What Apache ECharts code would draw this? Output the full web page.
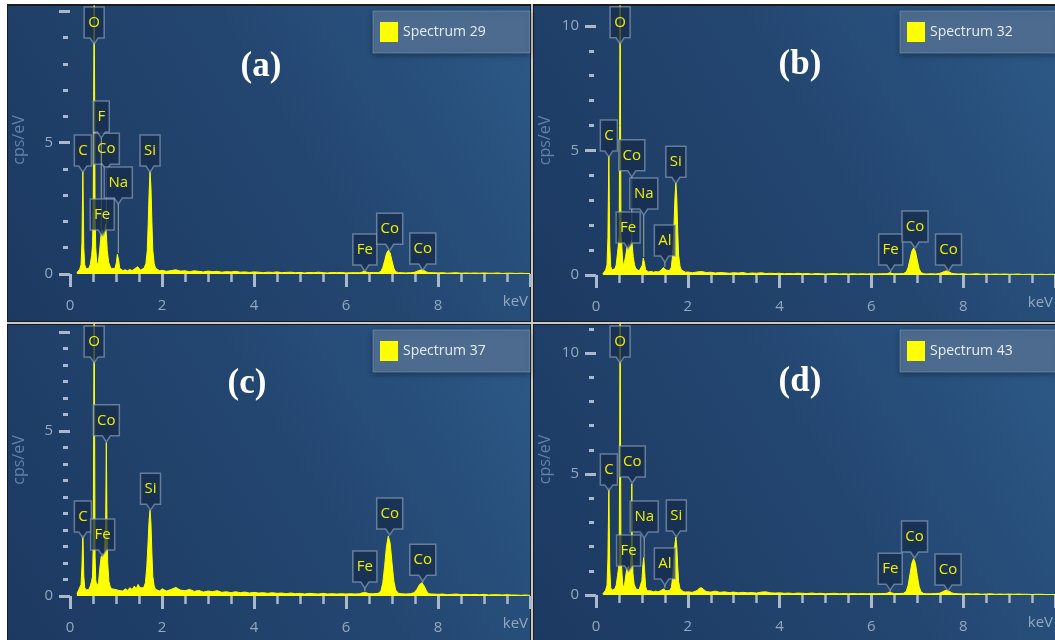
<!DOCTYPE html>
<html><head><meta charset="utf-8">
<script src="https://cdn.jsdelivr.net/npm/echarts@6/dist/echarts.min.js"></script>
<style>html,body{margin:0;padding:0;background:#fff}#c{width:1055px;height:640px}</style>
</head><body><div id="c"></div>
<script>
// ---------- DATA (keV, cps/eV) ----------
const spectrumNames = ['Spectrum 29', 'Spectrum 32', 'Spectrum 37', 'Spectrum 43'];
const panelTags = ['(a)', '(b)', '(c)', '(d)'];
const xTickLabels = [0, 2, 4, 6, 8];

const lowA = [[0.15,0.05],[0.18,0.12],[0.21,0.18],[0.24,0.35],[0.26,1.2],[0.27,2.6],[0.28,3.9],[0.29,2.4],[0.30,1.0],[0.32,0.35],[0.35,0.2],[0.38,0.15],[0.41,0.22],[0.44,0.35],[0.47,0.7],[0.49,1.1],[0.505,2.5],[0.515,7],[0.525,11],[0.535,7],[0.545,2.2],[0.56,1.0],[0.58,0.45],[0.60,0.35],[0.62,0.5],[0.645,0.9],[0.665,1.3],[0.68,1.55],[0.695,1.3],[0.71,1.65],[0.73,1.35],[0.755,1.5],[0.775,1.9],[0.79,1.5],[0.81,0.9],[0.84,0.45],[0.87,0.3],[0.90,0.2],[0.94,0.18],[0.98,0.22],[1.01,0.45],[1.03,0.75],[1.045,0.8],[1.06,0.5],[1.08,0.22],[1.11,0.15],[1.15,0.13],[1.2,0.16],[1.25,0.12],[1.3,0.17],[1.35,0.13],[1.4,0.19],[1.44,0.2],[1.47,0.28],[1.5,0.24],[1.53,0.15],[1.57,0.18],[1.61,0.22],[1.65,0.4],[1.68,0.9],[1.70,1.9],[1.72,3.1],[1.74,3.9],[1.76,3.3],[1.78,2.0],[1.80,0.9],[1.83,0.4],[1.86,0.22],[1.9,0.16],[1.95,0.12]];
const midA = [[2.0,.14],[2.1,.10],[2.2,.13],[2.3,.16],[2.4,.11],[2.5,.12],[2.6,.09],[2.7,.12],[2.8,.10],[2.9,.08],[3.0,.11],[3.1,.09],[3.2,.10],[3.3,.07],[3.4,.09],[3.5,.08],[3.6,.10],[3.7,.07],[3.8,.08],[3.9,.06],[4.0,.08],[4.1,.07],[4.2,.05],[4.3,.07],[4.4,.06],[4.5,.08],[4.6,.05],[4.7,.06],[4.8,.07],[4.9,.05],[5.0,.06],[5.1,.04],[5.2,.06],[5.3,.05],[5.4,.07],[5.5,.05],[5.6,.04],[5.7,.06],[5.8,.05],[5.9,.06],[6.0,.04],[6.1,.05],[6.2,.05]];
const highA = [[6.3,.05],[6.35,.07],[6.4,.12],[6.45,.07],[6.5,.05],[6.6,.06],[6.7,.05],[6.76,.1],[6.8,.25],[6.84,.5],[6.88,.78],[6.92,.9],[6.96,.8],[7.0,.5],[7.04,.22],[7.08,.09],[7.14,.05],[7.2,.05],[7.3,.04],[7.4,.05],[7.48,.06],[7.54,.1],[7.6,.14],[7.65,.16],[7.7,.13],[7.75,.08],[7.8,.05],[7.9,.05],[8.0,.04],[8.1,.05],[8.2,.03],[8.3,.04],[8.4,.05],[8.5,.03],[8.6,.04],[8.7,.03],[8.8,.04],[8.9,.03],[9.0,.04],[9.1,.03],[9.2,.03],[9.3,.04],[9.4,.02],[9.5,.03],[9.6,.03],[9.7,.02],[9.8,.03],[9.9,.02],[10.0,.02]];

const lowB = [[0.15,0.05],[0.18,0.12],[0.21,0.2],[0.24,0.4],[0.26,1.5],[0.27,3.2],[0.28,4.8],[0.29,3.0],[0.30,1.2],[0.32,0.35],[0.35,0.2],[0.38,0.18],[0.41,0.25],[0.44,0.4],[0.47,0.9],[0.49,1.25],[0.505,1.6],[0.515,6],[0.525,12],[0.535,6],[0.545,1.6],[0.56,1.25],[0.58,0.6],[0.60,0.35],[0.62,0.4],[0.645,0.75],[0.665,1.0],[0.68,1.15],[0.695,1.05],[0.71,1.25],[0.73,1.1],[0.755,1.2],[0.775,1.4],[0.79,1.2],[0.81,0.75],[0.84,0.4],[0.87,0.25],[0.90,0.18],[0.94,0.16],[0.98,0.2],[1.01,0.4],[1.03,0.68],[1.045,0.72],[1.06,0.45],[1.08,0.2],[1.11,0.13],[1.15,0.12],[1.2,0.15],[1.25,0.11],[1.3,0.14],[1.35,0.12],[1.4,0.16],[1.44,0.2],[1.47,0.3],[1.49,0.32],[1.52,0.2],[1.56,0.13],[1.6,0.18],[1.64,0.3],[1.67,0.8],[1.70,2.0],[1.72,3.1],[1.74,3.7],[1.76,3.1],[1.78,1.8],[1.80,0.8],[1.83,0.35],[1.86,0.2],[1.9,0.14],[1.95,0.11]];
const midB = [[2.0,.12],[2.1,.09],[2.2,.12],[2.3,.14],[2.4,.10],[2.5,.11],[2.6,.08],[2.7,.10],[2.8,.09],[2.9,.07],[3.0,.09],[3.1,.08],[3.2,.10],[3.3,.06],[3.4,.08],[3.5,.07],[3.6,.09],[3.7,.06],[3.8,.07],[3.9,.06],[4.0,.07],[4.1,.05],[4.2,.06],[4.3,.05],[4.4,.07],[4.5,.05],[4.6,.06],[4.7,.04],[4.8,.06],[4.9,.05],[5.0,.04],[5.1,.05],[5.2,.06],[5.3,.04],[5.4,.05],[5.5,.04],[5.6,.05],[5.7,.04],[5.8,.05],[5.9,.04],[6.0,.05],[6.1,.04],[6.2,.05]];
const highB = [[6.3,.05],[6.35,.06],[6.4,.09],[6.45,.06],[6.5,.05],[6.6,.05],[6.7,.06],[6.76,.12],[6.8,.3],[6.84,.62],[6.88,.95],[6.92,1.08],[6.96,.95],[7.0,.58],[7.04,.25],[7.08,.1],[7.14,.05],[7.2,.04],[7.3,.05],[7.4,.04],[7.48,.06],[7.54,.1],[7.6,.15],[7.65,.16],[7.7,.12],[7.75,.07],[7.8,.05],[7.9,.04],[8.0,.05],[8.1,.03],[8.2,.04],[8.3,.05],[8.4,.03],[8.5,.04],[8.6,.03],[8.7,.04],[8.8,.03],[8.9,.04],[9.0,.03],[9.1,.03],[9.2,.04],[9.3,.02],[9.4,.03],[9.5,.03],[9.6,.02],[9.7,.03],[9.8,.02],[9.9,.03],[10.0,.02]];

const lowC = [[0.15,0.08],[0.18,0.15],[0.21,0.2],[0.24,0.35],[0.26,0.9],[0.27,1.4],[0.28,1.85],[0.29,1.3],[0.30,0.6],[0.32,0.25],[0.35,0.18],[0.38,0.15],[0.41,0.2],[0.44,0.3],[0.47,0.45],[0.49,0.6],[0.505,1.5],[0.515,5],[0.525,10],[0.535,5],[0.545,1.2],[0.56,0.5],[0.58,0.3],[0.60,0.25],[0.62,0.4],[0.645,0.8],[0.665,1.05],[0.68,1.2],[0.695,1.1],[0.71,1.3],[0.73,1.2],[0.75,1.35],[0.775,2.2],[0.79,4.65],[0.805,2.0],[0.82,1.0],[0.845,0.45],[0.87,0.3],[0.90,0.22],[0.94,0.18],[0.98,0.2],[1.02,0.22],[1.06,0.17],[1.1,0.2],[1.15,0.15],[1.2,0.22],[1.25,0.17],[1.3,0.25],[1.35,0.2],[1.4,0.3],[1.44,0.22],[1.48,0.35],[1.52,0.25],[1.56,0.3],[1.6,0.25],[1.64,0.4],[1.67,0.9],[1.70,1.7],[1.72,2.3],[1.74,2.6],[1.76,2.2],[1.78,1.3],[1.80,0.6],[1.83,0.3],[1.86,0.2],[1.9,0.22],[1.95,0.15]];
const midC = [[2.0,.22],[2.1,.15],[2.2,.20],[2.3,.26],[2.4,.18],[2.5,.16],[2.6,.20],[2.7,.14],[2.8,.17],[2.9,.12],[3.0,.15],[3.1,.13],[3.2,.16],[3.3,.11],[3.4,.13],[3.5,.10],[3.6,.13],[3.7,.10],[3.8,.12],[3.9,.09],[4.0,.11],[4.1,.09],[4.2,.10],[4.3,.08],[4.4,.10],[4.5,.08],[4.6,.09],[4.7,.07],[4.8,.09],[4.9,.07],[5.0,.08],[5.1,.06],[5.2,.08],[5.3,.07],[5.4,.06],[5.5,.08],[5.6,.06],[5.7,.07],[5.8,.06],[5.9,.07],[6.0,.06],[6.1,.07],[6.2,.06]];
const highC = [[6.3,.07],[6.36,.1],[6.4,.14],[6.44,.1],[6.5,.07],[6.6,.07],[6.7,.08],[6.76,.15],[6.8,.4],[6.84,.9],[6.88,1.5],[6.92,1.82],[6.96,1.6],[7.0,1.0],[7.04,.45],[7.08,.18],[7.14,.08],[7.2,.07],[7.3,.06],[7.4,.07],[7.48,.1],[7.54,.2],[7.6,.35],[7.65,.4],[7.7,.3],[7.75,.15],[7.8,.07],[7.85,.06],[7.9,.06],[8.0,.05],[8.1,.06],[8.2,.04],[8.3,.05],[8.4,.06],[8.5,.04],[8.6,.05],[8.7,.04],[8.8,.05],[8.9,.04],[9.0,.05],[9.1,.03],[9.2,.04],[9.3,.04],[9.4,.03],[9.5,.04],[9.6,.03],[9.7,.03],[9.8,.02],[9.9,.03],[10.0,.02]];

const lowD = [[0.15,0.05],[0.18,0.12],[0.21,0.2],[0.24,0.4],[0.26,1.5],[0.27,3.0],[0.28,4.44],[0.29,2.8],[0.30,1.1],[0.32,0.3],[0.35,0.2],[0.38,0.18],[0.41,0.25],[0.44,0.4],[0.47,0.8],[0.49,1.1],[0.505,1.4],[0.515,6],[0.525,13],[0.535,6],[0.545,1.3],[0.56,1.1],[0.58,0.5],[0.60,0.3],[0.62,0.4],[0.645,0.75],[0.665,1.0],[0.68,1.15],[0.695,1.0],[0.71,1.2],[0.73,1.05],[0.755,1.15],[0.77,2.0],[0.78,4.6],[0.79,2.0],[0.805,0.9],[0.83,0.45],[0.87,0.25],[0.90,0.2],[0.94,0.22],[0.98,0.3],[1.0,0.6],[1.02,1.2],[1.04,1.55],[1.06,1.0],[1.08,0.35],[1.11,0.18],[1.15,0.15],[1.2,0.17],[1.25,0.13],[1.3,0.16],[1.35,0.13],[1.4,0.17],[1.44,0.2],[1.47,0.25],[1.49,0.27],[1.52,0.18],[1.56,0.14],[1.6,0.18],[1.64,0.3],[1.67,0.7],[1.70,1.6],[1.72,2.1],[1.74,2.4],[1.76,2.0],[1.78,1.2],[1.80,0.55],[1.83,0.25],[1.86,0.18],[1.9,0.14],[1.95,0.12]];
const midD = [[2.0,.13],[2.1,.11],[2.2,.18],[2.25,.28],[2.3,.3],[2.35,.22],[2.4,.14],[2.5,.12],[2.6,.16],[2.7,.11],[2.8,.13],[2.9,.10],[3.0,.12],[3.1,.09],[3.2,.11],[3.3,.09],[3.4,.10],[3.5,.08],[3.6,.12],[3.7,.13],[3.8,.09],[3.9,.08],[4.0,.09],[4.1,.07],[4.2,.08],[4.3,.06],[4.4,.08],[4.5,.07],[4.6,.06],[4.7,.08],[4.8,.06],[4.9,.07],[5.0,.05],[5.1,.06],[5.2,.07],[5.3,.05],[5.4,.06],[5.5,.05],[5.6,.06],[5.7,.05],[5.8,.06],[5.9,.05],[6.0,.06],[6.1,.05],[6.2,.06]];
const highD = [[6.3,.06],[6.35,.08],[6.4,.12],[6.45,.08],[6.5,.06],[6.6,.06],[6.7,.07],[6.76,.15],[6.8,.4],[6.84,.85],[6.88,1.3],[6.92,1.5],[6.96,1.3],[7.0,.8],[7.04,.35],[7.08,.13],[7.14,.06],[7.2,.05],[7.3,.05],[7.4,.06],[7.48,.07],[7.54,.12],[7.6,.18],[7.65,.2],[7.7,.15],[7.75,.09],[7.8,.06],[7.9,.05],[8.0,.04],[8.1,.05],[8.2,.04],[8.3,.05],[8.4,.03],[8.5,.04],[8.6,.05],[8.7,.03],[8.8,.04],[8.9,.03],[9.0,.04],[9.1,.03],[9.2,.04],[9.3,.03],[9.4,.03],[9.5,.02],[9.6,.03],[9.7,.03],[9.8,.02],[9.9,.02],[10.0,.02]];

// element labels: [name, keV, pointer-tip cps, peak cps]
const labelsA = [['Co',0.79,3.95,1.9],['Na',1.05,2.66,0.8],['F',0.68,5.18,1.55],['C',0.28,3.88,3.9],['O',0.525,8.75,11],['Si',1.74,3.88,3.9],['Fe',0.70,1.45,1.65],['Fe',6.41,0.11,0.12],['Co',6.95,0.9,0.9],['Co',7.67,0.15,0.16]];
const labelsB = [['O',0.525,9.28,12],['C',0.28,4.74,4.8],['Co',0.78,3.94,1.4],['Na',1.04,2.41,0.72],['Al',1.50,0.52,0.32],['Fe',0.70,1.04,1.3],['Si',1.74,3.68,3.7],['Fe',6.42,0.16,0.09],['Co',6.95,1.08,1.08],['Co',7.68,0.16,0.16]];
const labelsC = [['O',0.525,7.06,10],['Co',0.79,4.67,4.65],['C',0.28,1.76,1.85],['Si',1.75,2.6,2.6],['Fe',0.71,1.21,1.3],['Fe',6.41,0.24,0.14],['Co',6.95,1.85,1.82],['Co',7.67,0.45,0.4]];
const labelsD = [['O',0.525,9.59,13],['C',0.28,4.3,4.44],['Co',0.79,4.63,4.6],['Na',1.05,2.36,1.55],['Al',1.50,0.41,0.27],['Fe',0.71,0.95,1.2],['Si',1.75,2.4,2.4],['Fe',6.41,0.2,0.12],['Co',6.94,1.53,1.5],['Co',7.67,0.17,0.2]];

// y-axis extents and ticks
const yMax = [10.2, 10.8, 8.24, 11.2];
const yMajorTicks = [[0,5,10],[0,5,10],[0,5,8],[0,5,10]];
const yTickLabels = [[0,5],[0,5,10],[0,5],[0,5,10]];
const yMinorTicks = [[1,2,3,4,6,7,8,9],[1,2,3,4,6,7,8,9],[0.5,1,1.5,2,2.5,3,3.5,4,4.5,5.5,6,6.5,7,7.5],[1,2,3,4,6,7,8,9,11]];

// ---------- BUILD ----------
const spectra = [lowA.concat(midA, highA), lowB.concat(midB, highB), lowC.concat(midC, highC), lowD.concat(midD, highD)];
const labelSets = [labelsA, labelsB, labelsC, labelsD];

const grids = [
  {left: 70, top: 6, width: 460, height: 268},
  {left: 596, top: 6, width: 460, height: 269},
  {left: 70, top: 324, width: 460, height: 272},
  {left: 596, top: 324, width: 460, height: 271}
];
const panelRects = [[8,6,522,315],[534,6,521,315],[8,325,522,315],[534,325,521,315]];
const legendPos = [[373,11],[900,11],[373,330],[900,330]];
const tagPos = [[261,67],[800,65],[247,384],[800,382]];

const FONT = '"Open Sans", "Noto Sans", sans-serif';
const TICK_C = '#a9b8ca';
const LABEL_C = '#93a8bf';

const mctx = document.createElement('canvas').getContext('2d');
mctx.font = '15px "Open Sans"';
function textW(t) { return mctx.measureText(t).width; }

function makeRender(labels) {
  return function (params, api) {
    const L = labels[params.dataIndex];
    const e = api.value(0), tip = api.value(1), peak = api.value(2);
    const p = api.coord([e, tip]);
    const q = api.coord([e, Math.min(peak, tip)]);
    const w = Math.round(textW(L[0]) + 8), h = 31, x = p[0], by = p[1] - 6;
    const children = [];
    if (q[1] > p[1] + 1) {
      children.push({type: 'line', shape: {x1: x, y1: p[1], x2: x, y2: q[1]},
        style: {stroke: 'rgba(200,205,160,0.75)', lineWidth: 1}});
    }
    children.push({type: 'polygon', shape: {points: [[x - w/2, by - h], [x + w/2, by - h], [x + w/2, by], [x + 4, by], [x, p[1]], [x - 4, by], [x - w/2, by]]},
      style: {fill: 'rgba(22,44,76,0.75)', stroke: 'rgba(150,170,195,0.6)', lineWidth: 1.5}});
    children.push({type: 'text', style: {text: L[0], x: x, y: by - h/2, align: 'center', verticalAlign: 'middle',
      fill: '#f2ee00', font: '15px ' + FONT}});
    return {type: 'group', children: children};
  };
}

const xAxes = [], yAxes = [], series = [], legends = [], gridsOpt = [];
const graphics = [
  {type: 'rect', shape: {x: 7, y: 4, width: 1048, height: 636}, style: {fill: '#1b1b1b'}, z: -30},
  {type: 'rect', shape: {x: 531, y: 4, width: 2, height: 636}, style: {fill: '#c8c8c8'}, z: -29},
  {type: 'rect', shape: {x: 7, y: 322, width: 1048, height: 2}, style: {fill: '#c8c8c8'}, z: -29}
];

for (let i = 0; i < 4; i++) {
  gridsOpt.push(Object.assign({containLabel: false}, grids[i]));
  const r = panelRects[i];
  graphics.push({type: 'rect', shape: {x: r[0], y: r[1], width: r[2], height: r[3]}, z: -20,
    style: {fill: new echarts.graphic.LinearGradient(0, 1, 1, 0, [
      {offset: 0, color: '#1c3961'}, {offset: 0.55, color: '#234670'}, {offset: 1, color: '#2d5988'}])}});
  graphics.push({type: 'text', x: tagPos[i][0], y: tagPos[i][1], z: 50,
    style: {text: panelTags[i], align: 'center', verticalAlign: 'middle', fill: '#ffffff',
      font: 'bold 35px "Liberation Serif", "Times New Roman", serif'}});

  xAxes.push({
    gridIndex: i, type: 'value', min: 0, max: 10, interval: 2, offset: 4,
    axisLine: {show: false}, splitLine: {show: false},
    axisTick: {show: true, length: 13, lineStyle: {color: TICK_C, width: 3}},
    minorTick: {show: true, splitNumber: 4, length: 8, lineStyle: {color: TICK_C, width: 2.5}},
    axisLabel: {color: LABEL_C, fontSize: 15, fontFamily: FONT, margin: 20, customValues: xTickLabels},
    name: 'keV', nameLocation: 'end', nameGap: -2,
    nameTextStyle: {color: LABEL_C, fontSize: 15, fontFamily: FONT, align: 'right', verticalAlign: 'top', padding: [20, 0, 0, 0]}
  });
  yAxes.push({
    gridIndex: i, type: 'value', position: 'left', min: 0, max: yMax[i], offset: 2,
    axisLine: {show: false}, splitLine: {show: false},
    axisTick: {show: true, length: 11, customValues: yMajorTicks[i], lineStyle: {color: TICK_C, width: 3}},
    axisLabel: {color: LABEL_C, fontSize: 15, fontFamily: FONT, margin: 15, customValues: yTickLabels[i]},
    name: 'cps/eV', nameLocation: 'middle', nameGap: 41,
    nameTextStyle: {color: '#5f83ad', fontSize: 16, fontFamily: FONT}
  });
  yAxes.push({
    gridIndex: i, type: 'value', position: 'left', min: 0, max: yMax[i], offset: 2,
    axisLine: {show: false}, splitLine: {show: false},
    axisTick: {show: true, length: 5, customValues: yMinorTicks[i], lineStyle: {color: TICK_C, width: 3}},
    axisLabel: {show: false}
  });

  series.push({
    name: spectrumNames[i], type: 'line', xAxisIndex: i, yAxisIndex: 2 * i,
    data: spectra[i], symbol: 'none', showSymbol: false, silent: true, clip: true,
    lineStyle: {color: '#ffff00', width: 1}, itemStyle: {color: '#ffff00'},
    areaStyle: {color: '#ffff00', opacity: 1}, z: 3
  });
  series.push({
    type: 'custom', xAxisIndex: i, yAxisIndex: 2 * i, silent: true, z: 6,
    data: labelSets[i].map(l => [l[1], l[2], l[3]]),
    encode: {x: 0, y: 1},
    renderItem: makeRender(labelSets[i])
  });
  legends.push({
    data: [spectrumNames[i]], left: legendPos[i][0], top: legendPos[i][1], selectedMode: false,
    icon: 'rect', itemWidth: 18, itemHeight: 20,
    padding: [11, 44, 11, 7], backgroundColor: '#4c6b8e', borderColor: 'rgba(140,165,195,0.5)', borderWidth: 1,
    shadowBlur: 6, shadowColor: 'rgba(0,0,0,0.35)', shadowOffsetY: 2,
    textStyle: {color: '#e8eef5', fontSize: 14, fontFamily: FONT}
  });
}

const chart = echarts.init(document.getElementById('c'), null, {renderer: 'canvas'});
chart.setOption({
  animation: false,
  backgroundColor: '#ffffff',
  grid: gridsOpt,
  xAxis: xAxes,
  yAxis: yAxes,
  legend: legends,
  series: series,
  graphic: {elements: graphics}
});
</script>
</body></html>
